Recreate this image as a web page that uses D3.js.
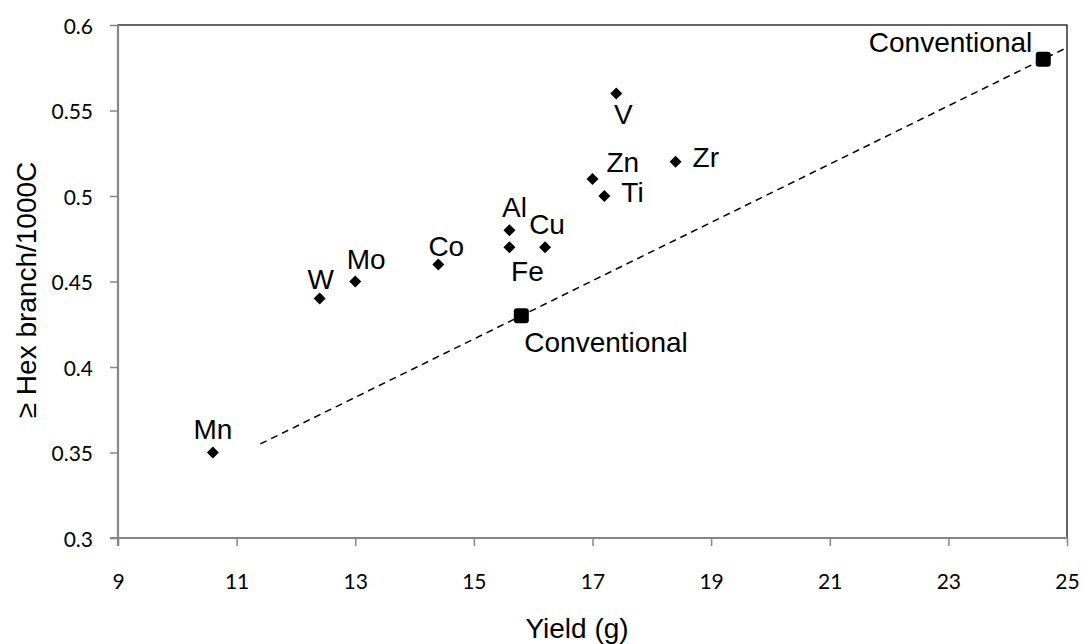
<!DOCTYPE html>
<html>
<head>
<meta charset="utf-8">
<script src="https://cdn.jsdelivr.net/npm/d3@7/dist/d3.min.js"></script>
<style>
  html, body { margin: 0; padding: 0; background: #fff; }
  svg { display: block; }
</style>
</head>
<body>
<svg id="chart" width="1083" height="644"></svg>
<script>
// ---- data ----
const metals = ["Mn", "W", "Mo", "Co", "Al", "Fe", "Cu", "Zn", "Ti", "V", "Zr"];
const metalYield = [10.6, 12.4, 13.0, 14.4, 15.6, 15.6, 16.2, 17.0, 17.2, 17.4, 18.4];
const metalBranch = [0.35, 0.44, 0.45, 0.46, 0.48, 0.47, 0.47, 0.51, 0.50, 0.56, 0.52];
const convLabels = ["Conventional", "Conventional"];
const convYield = [15.8, 24.6];
const convBranch = [0.43, 0.58];
const trendRange = [11.4, 25];
const xTicks = [9, 11, 13, 15, 17, 19, 21, 23, 25];
const yTicks = [0.3, 0.35, 0.4, 0.45, 0.5, 0.55, 0.6];
const xTitle = "Yield (g)";
const yTitle = "\u2265 Hex branch/1000C";

// ---- label layout (pixel offsets from marker: dx, dy of baseline, anchor) ----
const metalLabelPos = [
  [0, -14, "middle"], [1, -10, "middle"], [11, -13, "middle"], [8, -8, "middle"],
  [5, -13, "middle"], [18, 34, "middle"], [2, -13, "middle"], [14, -7, "start"],
  [17, 6, "start"], [7, 31, "middle"], [17, 5, "start"]
];
const convLabelPos = [[3, 36, "start"], [-11, -7, "end"]];

// ---- layout ----
const svg = d3.select("#chart");
const W = 1083, H = 644;
const margin = { left: 118, right: W - 1067, top: 25, bottom: H - 538 };
const x = d3.scaleLinear().domain([9, 25]).range([margin.left, W - margin.right]);
const y = d3.scaleLinear().domain([0.3, 0.6]).range([H - margin.bottom, margin.top]);

svg.append("rect").attr("width", W).attr("height", H).attr("fill", "#fff");

// plot border (top/right black)
svg.append("rect")
  .attr("x", x(9)).attr("y", y(0.6))
  .attr("width", x(25) - x(9)).attr("height", y(0.3) - y(0.6))
  .attr("fill", "none").attr("stroke", "#000").attr("stroke-width", 1.2);

const tickFont = "Lato, 'Open Sans', sans-serif";
const labelFont = "'Liberation Sans', Arial, sans-serif";

// axes
const xAxis = svg.append("g")
  .attr("transform", `translate(0,${y(0.3)})`)
  .call(d3.axisBottom(x).tickValues(xTicks).tickSize(8).tickPadding(28).tickFormat(d3.format("d")));
const yAxis = svg.append("g")
  .attr("transform", `translate(${x(9)},0)`)
  .call(d3.axisLeft(y).tickValues(yTicks).tickSize(8).tickPadding(17).tickFormat(d => String(+d.toFixed(2))));

[xAxis, yAxis].forEach(g => {
  g.select(".domain").attr("stroke", "#868686").attr("stroke-width", 2.2);
  g.selectAll(".tick line").attr("stroke", "#868686").attr("stroke-width", 1.5);
  g.selectAll(".tick text").attr("fill", "#000").style("font-family", tickFont).style("font-size", "21px");
});
xAxis.select(".domain").attr("d", `M${x(9) - 8},0H${x(25)}`);
yAxis.select(".domain").attr("d", `M0,${y(0.3) + 8}V${y(0.6)}`);
yAxis.selectAll(".tick text").attr("dy", "0.4em");
xAxis.selectAll(".tick text").attr("dy", "0.71em");

// trendline (linear fit through conventional points)
const mx = d3.mean(convYield), my = d3.mean(convBranch);
const slope = d3.sum(convYield.map((v, i) => (v - mx) * (convBranch[i] - my))) /
              d3.sum(convYield.map(v => (v - mx) * (v - mx)));
const intercept = my - slope * mx;
svg.append("line")
  .attr("x1", x(trendRange[0])).attr("y1", y(intercept + slope * trendRange[0]))
  .attr("x2", x(trendRange[1])).attr("y2", y(intercept + slope * trendRange[1]))
  .attr("stroke", "#000").attr("stroke-width", 1.5).attr("stroke-dasharray", "7,5");

// metal diamonds
svg.append("g").selectAll("path")
  .data(metals)
  .join("path")
  .attr("d", d3.symbol().type(d3.symbolSquare).size(72))
  .attr("transform", (d, i) => `translate(${x(metalYield[i])},${y(metalBranch[i])}) rotate(45)`)
  .attr("fill", "#000");

// conventional squares
svg.append("g").selectAll("rect")
  .data(convLabels)
  .join("rect")
  .attr("x", (d, i) => x(convYield[i]) - 7.5)
  .attr("y", (d, i) => y(convBranch[i]) - 7.5)
  .attr("width", 15).attr("height", 15).attr("rx", 3)
  .attr("fill", "#000");

// labels
svg.append("g").selectAll("text")
  .data(metals)
  .join("text")
  .attr("x", (d, i) => x(metalYield[i]) + metalLabelPos[i][0])
  .attr("y", (d, i) => y(metalBranch[i]) + metalLabelPos[i][1])
  .attr("text-anchor", (d, i) => metalLabelPos[i][2])
  .style("font-family", labelFont).style("font-size", "28px")
  .text(d => d);

svg.append("g").selectAll("text")
  .data(convLabels)
  .join("text")
  .attr("x", (d, i) => x(convYield[i]) + convLabelPos[i][0])
  .attr("y", (d, i) => y(convBranch[i]) + convLabelPos[i][1])
  .attr("text-anchor", (d, i) => convLabelPos[i][2])
  .style("font-family", labelFont).style("font-size", "28px")
  .text(d => d);

// axis titles
svg.append("text")
  .attr("x", 577).attr("y", 638)
  .attr("text-anchor", "middle")
  .style("font-family", labelFont).style("font-size", "28px")
  .text(xTitle);
svg.append("text")
  .attr("transform", `translate(36,290) rotate(-90)`)
  .attr("text-anchor", "middle")
  .style("font-family", labelFont).style("font-size", "28px")
  .text(yTitle);
</script>
</body>
</html>
